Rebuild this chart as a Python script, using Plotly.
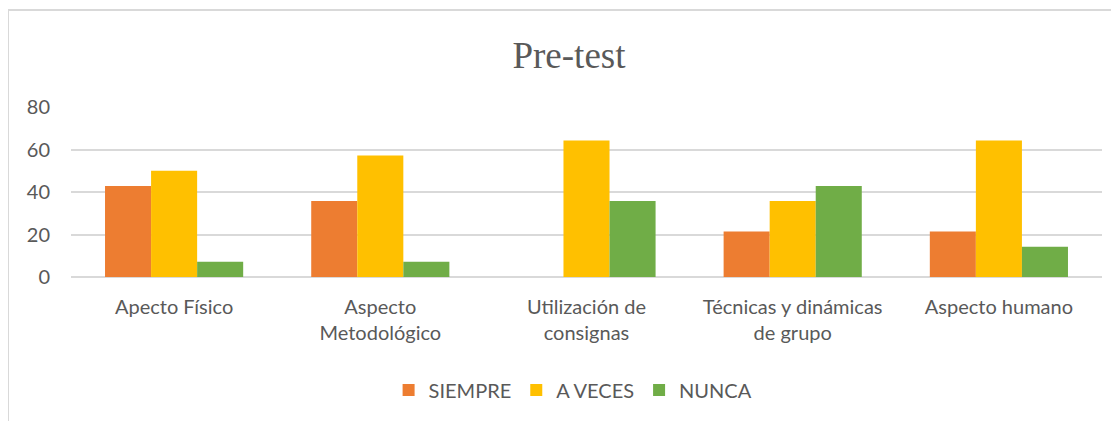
import plotly.graph_objects as go

categorias = ["Apecto Físico", "Aspecto<br>Metodológico", "Utilización de<br>consignas",
              "Técnicas y dinámicas<br>de grupo", "Aspecto humano"]
siempre = [42.86, 35.71, 0, 21.43, 21.43]
a_veces = [50.0, 57.14, 64.29, 35.71, 64.29]
nunca = [7.14, 7.14, 35.71, 42.86, 14.29]

series = [("SIEMPRE", siempre, "#ed7d31"),
          ("A VECES", a_veces, "#ffc000"),
          ("NUNCA", nunca, "#70ad47")]

fig = go.Figure()
for nombre, valores, color in series:
    fig.add_trace(go.Bar(x=categorias, y=valores, name=nombre, marker_color=color,
                         marker_line_width=0))

# la página tiene 8px de margen en el body, se compensa aquí
fig.update_layout(
    width=1111, height=413,
    margin=dict(l=63, r=17, t=99, b=144),
    paper_bgcolor="white", plot_bgcolor="white",
    font=dict(family="Lato, Open Sans, sans-serif", size=20, color="#595959"),
    title=dict(text="Pre-test", x=0.483, xref="paper", xanchor="center",
               y=0.886, yanchor="middle",
               font=dict(family="Liberation Serif, Times New Roman, serif", size=37, color="#595959")),
    barmode="group", bargap=0.33, bargroupgap=0,
    legend=dict(orientation="h", x=0.487, xanchor="center", y=-0.665, yanchor="middle",
                font=dict(size=20), traceorder="normal"),
    showlegend=True,
)
fig.update_yaxes(range=[0, 80], dtick=20, gridcolor="#d9d9d9", gridwidth=1.5,
                 zeroline=True, zerolinecolor="#d9d9d9", zerolinewidth=2,
                 ticks="", ticklabelstandoff=20)
fig.update_xaxes(showline=False, ticks="", ticklabelstandoff=16)

# marco del gráfico
fig.add_shape(type="rect", xref="paper", yref="paper", x0=-0.0611, x1=1.2, y0=-1.2, y1=1.5706,
              line=dict(color="#d9d9d9", width=2), layer="below")

fig.write_html("out.html")
